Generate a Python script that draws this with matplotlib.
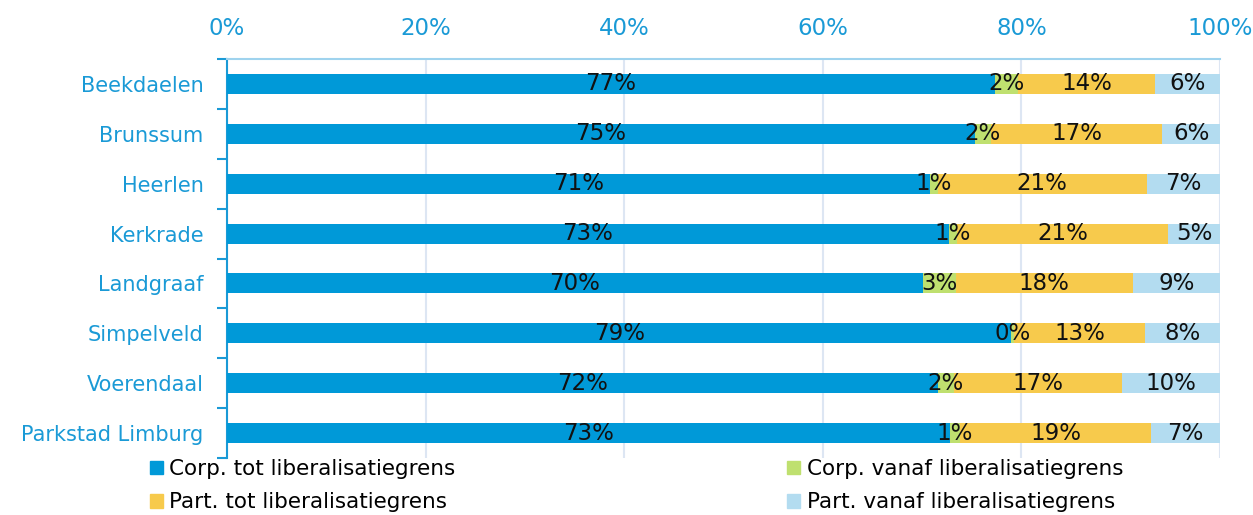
import matplotlib
matplotlib.use("Agg")
import matplotlib.pyplot as plt
import numpy as np
from matplotlib.patches import Patch

plt.rcParams['font.family'] = ['DejaVu Sans']

categories = ["Beekdaelen", "Brunssum", "Heerlen", "Kerkrade", "Landgraaf",
              "Simpelveld", "Voerendaal", "Parkstad Limburg"]
series_names = ["Corp. tot liberalisatiegrens", "Corp. vanaf liberalisatiegrens",
                "Part. tot liberalisatiegrens", "Part. vanaf liberalisatiegrens"]
corp_tot = [77.3, 75.3, 70.8, 72.7, 70.1, 79.0, 71.6, 72.8]
corp_vanaf = [2.4, 1.6, 0.8, 0.8, 3.3, 0.3, 1.6, 1.0]
part_tot = [13.8, 17.3, 21.0, 21.3, 17.8, 13.1, 16.9, 19.3]
part_vanaf = [6.5, 5.8, 7.4, 5.2, 8.8, 7.6, 9.9, 6.9]
labels = [
    ["77%", "2%", "14%", "6%"],
    ["75%", "2%", "17%", "6%"],
    ["71%", "1%", "21%", "7%"],
    ["73%", "1%", "21%", "5%"],
    ["70%", "3%", "18%", "9%"],
    ["79%", "0%", "13%", "8%"],
    ["72%", "2%", "17%", "10%"],
    ["73%", "1%", "19%", "7%"],
]
xticks = [0, 20, 40, 60, 80, 100]
xticklabels = ["0%", "20%", "40%", "60%", "80%", "100%"]

colors = ["#0099d8", "#bfe06f", "#f7ca4c", "#b3dcf0"]
tick_color = "#1a9ad6"

fig = plt.figure(figsize=(12.53, 5.15), dpi=100)
ax = fig.add_axes([227/1253, 1-458/515, (1220-227)/1253, (458-59)/515])

y = np.arange(len(categories))
data = [corp_tot, corp_vanaf, part_tot, part_vanaf]
left = np.zeros(len(categories))
for i, vals in enumerate(data):
    vals = np.array(vals)
    ax.barh(y, vals, left=left, height=0.4, color=colors[i], zorder=3)
    for j in range(len(categories)):
        ax.text(left[j] + vals[j] / 2, y[j], labels[j][i], ha="center", va="center",
                fontsize=16.5, color="#111111", zorder=4)
    left = left + vals

ax.set_xlim(0, 100)
ax.set_ylim(len(categories) - 0.5, -0.5)
ax.set_yticks(y)
ax.set_yticklabels(categories, fontsize=15, color=tick_color)
ax.set_yticks(np.arange(-0.5, len(categories), 1), minor=True)
ax.tick_params(axis="y", which="major", length=0, pad=17)
ax.tick_params(axis="y", which="minor", length=7, color=tick_color, width=1.5)
ax.xaxis.tick_top()
ax.set_xticks(xticks)
ax.set_xticklabels(xticklabels, fontsize=16.5, color=tick_color)
ax.tick_params(axis="x", length=0, pad=14)
ax.grid(axis="x", color="#dde6f3", linewidth=1.5, zorder=0)
for s in ["right", "bottom"]:
    ax.spines[s].set_visible(False)
ax.spines["left"].set_color(tick_color)
ax.spines["left"].set_linewidth(1.5)
ax.spines["top"].set_color("#9fd3ee")
ax.spines["top"].set_linewidth(1.5)

handles = [Patch(color=colors[0]), Patch(color=colors[2]),
           Patch(color=colors[1]), Patch(color=colors[3])]
names = [series_names[0], series_names[2], series_names[1], series_names[3]]
fig.legend(handles, names, ncol=2, loc="upper left", bbox_to_anchor=(150/1253, 1-459/515),
           frameon=False, fontsize=15.5, handlelength=0.6, handleheight=0.6,
           handletextpad=0.3, columnspacing=15.4, labelspacing=0.62, borderaxespad=0,
           borderpad=0)

fig.savefig("out.png", dpi=100)
